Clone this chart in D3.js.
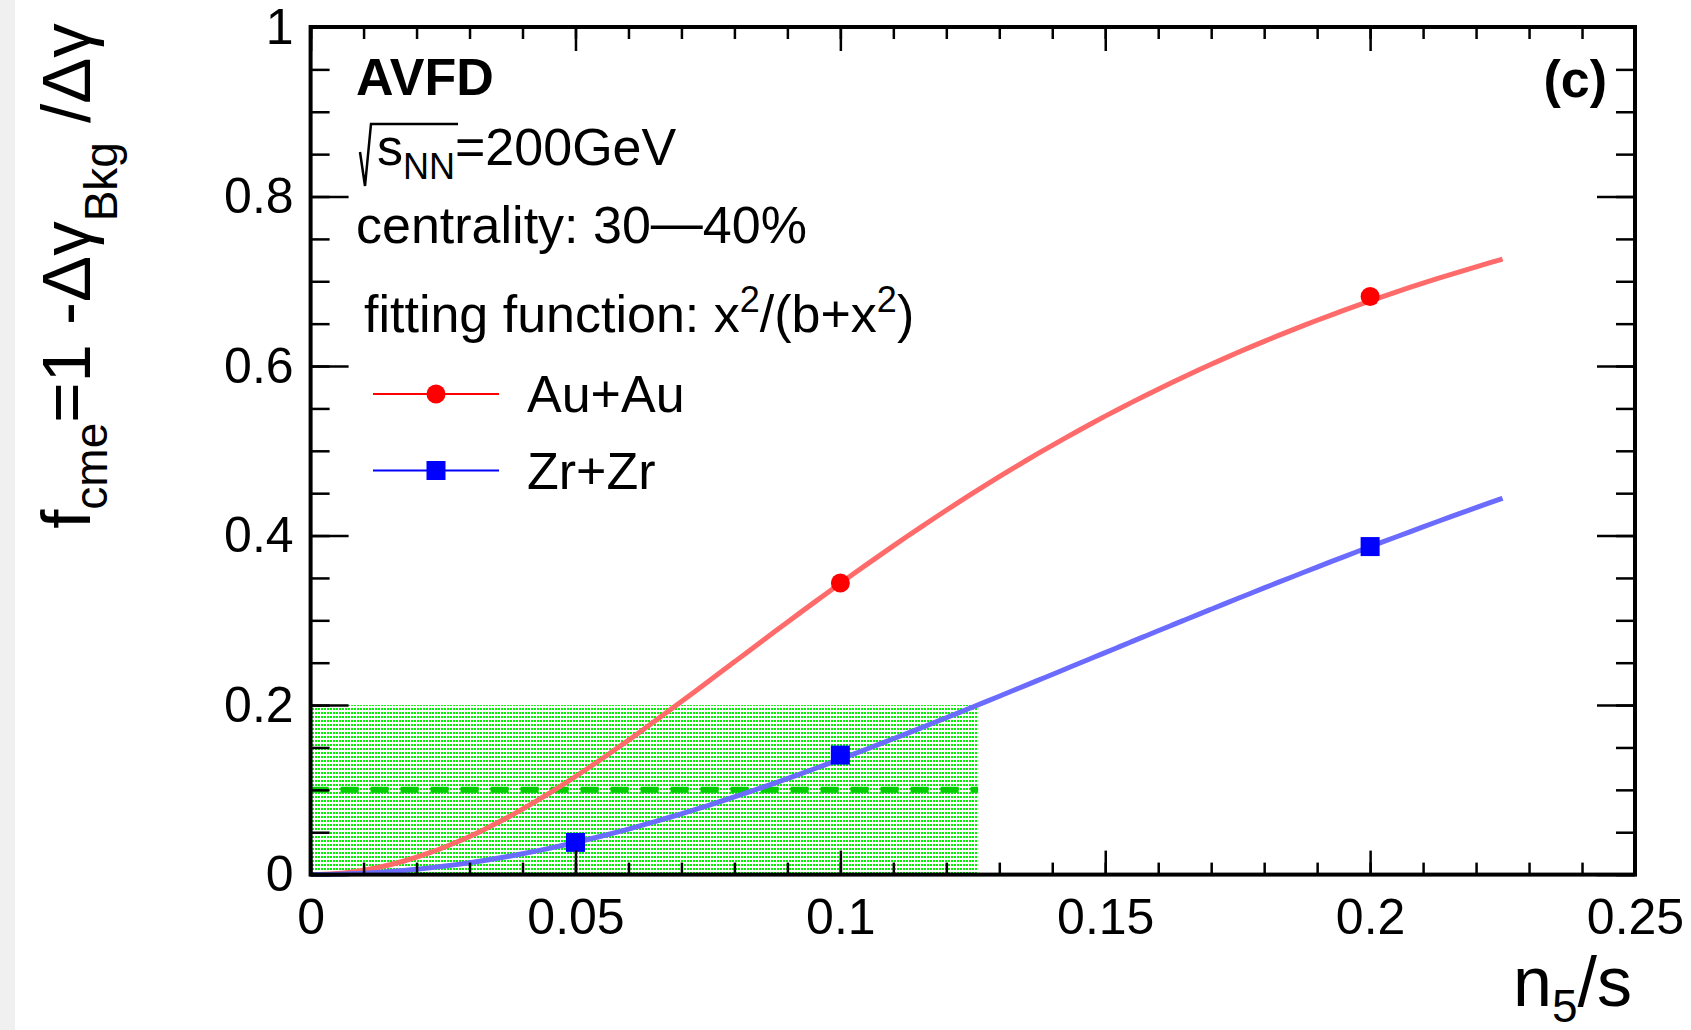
<!DOCTYPE html>
<meta charset="utf-8">
<style>
body { margin: 0; background: #fff; }
svg text { font-family: "Liberation Sans", Arial, Helvetica, sans-serif; fill: #000; }
.tick line { stroke: #000; stroke-width: 2.5px; }
</style>
<body>
<script src="https://d3js.org/d3.v7.min.js"></script>
<script>

// data
var auX = [0.1, 0.2];
var auY = [0.344, 0.682];
var zrX = [0.05, 0.1, 0.2];
var zrY = [0.038, 0.141, 0.387];

// fit parameter b of x^2/(b+x^2), and the range the fit is drawn on
var auFitB = 0.0191;
var zrFitB = 0.0634;
var fitRange = [0, 0.225];

// shaded band and its centre line
var bandX = [0, 0.126];
var bandY = [0, 0.2];
var bandMid = 0.1;

var xTicks = [0, 0.05, 0.1, 0.15, 0.2, 0.25];
var xMinor = d3.range(0, 0.2501, 0.01);
var yTicks = [0, 0.2, 0.4, 0.6, 0.8, 1];
var yMinor = d3.range(0, 1.0001, 0.05);

var W = 1691, H = 1030;
var margin = {top: 27, right: 56, bottom: 155.4, left: 310.6};

var svg = d3.select("body").append("svg")
	.attr("width", W)
	.attr("height", H);

// grey strip on the left edge of the scan
svg.append("rect")
	.attr("x", 0).attr("y", 0).attr("width", 15).attr("height", H)
	.attr("fill", "#f0f0f0");

var x = d3.scaleLinear().domain([0, 0.25]).range([margin.left, W - margin.right]);
var y = d3.scaleLinear().domain([0, 1]).range([H - margin.bottom, margin.top]);

// dotted green fill pattern
var defs = svg.append("defs");
var pat = defs.append("pattern")
	.attr("id", "dots")
	.attr("patternUnits", "userSpaceOnUse")
	.attr("width", 3).attr("height", 4);
pat.append("rect").attr("width", 3).attr("height", 4).attr("fill", "#ffffff");
pat.append("rect").attr("width", 2).attr("height", 2).attr("fill", "#00f000");

svg.append("rect")
	.attr("x", x(bandX[0]))
	.attr("y", y(bandY[1]))
	.attr("width", x(bandX[1]) - x(bandX[0]))
	.attr("height", y(bandY[0]) - y(bandY[1]))
	.attr("fill", "url(#dots)");

svg.append("line")
	.attr("x1", x(bandX[0])).attr("x2", x(bandX[1]))
	.attr("y1", y(bandMid)).attr("y2", y(bandMid))
	.attr("stroke", "#00cc00")
	.attr("stroke-width", 6)
	.attr("stroke-dasharray", "18,12");

// fit curves
function fitCurve(b) {
	return d3.range(fitRange[0], fitRange[1] + 1e-9, 0.0025)
		.map(function(v) { return [v, v * v / (b + v * v)]; });
}
var line = d3.line()
	.x(function(d) { return x(d[0]); })
	.y(function(d) { return y(d[1]); })
	.curve(d3.curveMonotoneX);

svg.append("path")
	.attr("d", line(fitCurve(auFitB)))
	.attr("fill", "none")
	.attr("stroke", "#ff6b6b")
	.attr("stroke-width", 5);

svg.append("path")
	.attr("d", line(fitCurve(zrFitB)))
	.attr("fill", "none")
	.attr("stroke", "#6b6bff")
	.attr("stroke-width", 5);

// points
svg.selectAll(".au")
	.data(auX)
	.enter().append("circle")
		.attr("class", "au")
		.attr("cx", function(d) { return x(d); })
		.attr("cy", function(d, i) { return y(auY[i]); })
		.attr("r", 9.5)
		.attr("fill", "#ff0000");

svg.selectAll(".zr")
	.data(zrX)
	.enter().append("rect")
		.attr("class", "zr")
		.attr("x", function(d) { return x(d) - 9.5; })
		.attr("y", function(d, i) { return y(zrY[i]) - 9.5; })
		.attr("width", 19).attr("height", 19)
		.attr("fill", "#0000ff");

// axes, ticks pointing inward like ROOT
var fs = 50;
var gx = svg.append("g")
	.attr("transform", "translate(0," + y(0) + ")")
	.call(d3.axisBottom(x).tickValues(xTicks).tickSize(-24).tickPadding(24)
		.tickFormat(function(d) { return d === 0 ? "0" : String(+d.toFixed(2)); }));
gx.selectAll("text").style("font-size", fs + "px");
svg.append("g")
	.attr("transform", "translate(0," + y(0) + ")")
	.call(d3.axisBottom(x).tickValues(xMinor).tickSize(-12).tickFormat(""));
svg.append("g")
	.attr("transform", "translate(0," + y(1) + ")")
	.call(d3.axisTop(x).tickValues(xTicks).tickSize(-24).tickFormat(""));
svg.append("g")
	.attr("transform", "translate(0," + y(1) + ")")
	.call(d3.axisTop(x).tickValues(xMinor).tickSize(-12).tickFormat(""));

var gy = svg.append("g")
	.attr("transform", "translate(" + x(0) + ",0)")
	.call(d3.axisLeft(y).tickValues(yTicks).tickSize(-38).tickPadding(17)
		.tickFormat(function(d) { return d === 0 ? "0" : d === 1 ? "1" : String(+d.toFixed(1)); }));
gy.selectAll("text").style("font-size", fs + "px");
svg.append("g")
	.attr("transform", "translate(" + x(0) + ",0)")
	.call(d3.axisLeft(y).tickValues(yMinor).tickSize(-19).tickFormat(""));
svg.append("g")
	.attr("transform", "translate(" + x(0.25) + ",0)")
	.call(d3.axisRight(y).tickValues(yTicks).tickSize(-38).tickFormat(""));
svg.append("g")
	.attr("transform", "translate(" + x(0.25) + ",0)")
	.call(d3.axisRight(y).tickValues(yMinor).tickSize(-19).tickFormat(""));

svg.selectAll(".domain").remove();

// frame
svg.append("rect")
	.attr("x", x(0)).attr("y", y(1))
	.attr("width", x(0.25) - x(0))
	.attr("height", y(0) - y(1))
	.attr("fill", "none")
	.attr("stroke", "#000")
	.attr("stroke-width", 4);

// axis titles
var yt = svg.append("text")
	.attr("transform", "translate(90,276) rotate(-90)")
	.attr("text-anchor", "middle")
	.style("font-size", "69px");
yt.append("tspan").text("f");
yt.append("tspan").attr("dy", 17).style("font-size", "46px").text("cme");
yt.append("tspan").attr("dy", -17).text("=1 -\u0394\u03b3");
yt.append("tspan").attr("dy", 27).style("font-size", "46px").text("Bkg");
yt.append("tspan").attr("dy", -27).text(" /\u0394\u03b3");

var xt = svg.append("text")
	.attr("x", 1632).attr("y", 1006)
	.attr("text-anchor", "end")
	.style("font-size", "70px");
xt.append("tspan").text("n");
xt.append("tspan").attr("dy", 16).style("font-size", "46px").text("5");
xt.append("tspan").attr("dy", -16).text("/s");

// labels in the pad
svg.append("text")
	.attr("x", 356).attr("y", 95)
	.style("font-size", "52px").style("font-weight", "bold")
	.text("AVFD");

svg.append("text")
	.attr("x", 1607).attr("y", 97)
	.attr("text-anchor", "end")
	.style("font-size", "52px").style("font-weight", "bold")
	.text("(c)");

svg.append("path")
	.attr("d", "M360,152 L365,186 L371,124 L458,124")
	.attr("fill", "none")
	.attr("stroke", "#000")
	.attr("stroke-width", 2.5);
var rs = svg.append("text")
	.attr("x", 377).attr("y", 165)
	.style("font-size", "52px");
rs.append("tspan").text("s");
rs.append("tspan").attr("dy", 14).style("font-size", "36px").text("NN");
rs.append("tspan").attr("dy", -14).text("=200GeV");

var cen = svg.append("text")
	.attr("x", 356).attr("y", 243)
	.style("font-size", "52px");
cen.append("tspan").text("centrality: 30");
cen.append("tspan").attr("dy", -3).text("\u2014");
cen.append("tspan").attr("dy", 3).text("40%");

var ff = svg.append("text")
	.attr("x", 364).attr("y", 332)
	.style("font-size", "52px");
ff.append("tspan").text("fitting function: x");
ff.append("tspan").attr("dy", -20).style("font-size", "36px").text("2");
ff.append("tspan").attr("dy", 20).text("/(b+x");
ff.append("tspan").attr("dy", -20).style("font-size", "36px").text("2");
ff.append("tspan").attr("dy", 20).text(")");

// legend
var legend = [
	{name: "Au+Au", color: "#ff0000", shape: "circle", y: 394},
	{name: "Zr+Zr", color: "#0000ff", shape: "square", y: 470.5}
];
legend.forEach(function(l) {
	svg.append("line")
		.attr("x1", 373).attr("x2", 499)
		.attr("y1", l.y).attr("y2", l.y)
		.attr("stroke", l.color).attr("stroke-width", 2);
	if (l.shape === "circle") {
		svg.append("circle").attr("cx", 436).attr("cy", l.y).attr("r", 9.5).attr("fill", l.color);
	} else {
		svg.append("rect").attr("x", 426.5).attr("y", l.y - 9.5)
			.attr("width", 19).attr("height", 19).attr("fill", l.color);
	}
	svg.append("text")
		.attr("x", 527).attr("y", l.y + 18)
		.style("font-size", "52px")
		.text(l.name);
});

</script>
</body>
